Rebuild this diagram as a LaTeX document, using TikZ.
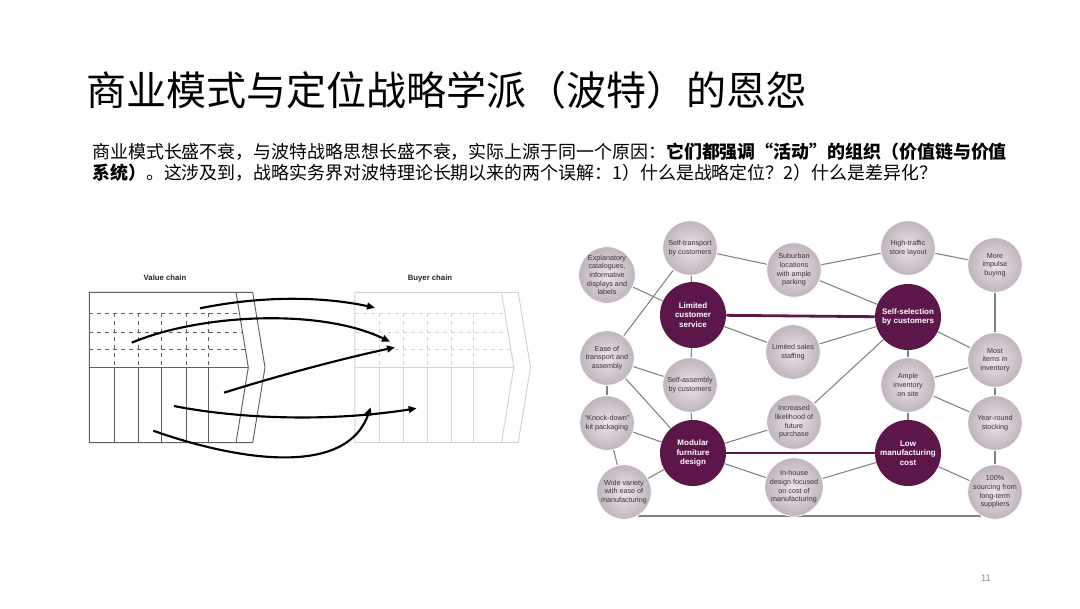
\documentclass[tikz,border=0pt]{standalone}
\usepackage{fontspec}
\setmainfont{Liberation Sans}
\newfontfamily\cjk{Noto Sans CJK SC}
\usetikzlibrary{arrows.meta,backgrounds}
\definecolor{HubPurple}{RGB}{92,22,74}
\definecolor{CircIn}{RGB}{234,228,232}
\definecolor{CircOut}{RGB}{192,180,189}
\definecolor{LinkGray}{RGB}{130,130,130}
\definecolor{ChainGray}{RGB}{95,95,95}
\definecolor{BuyerGray}{RGB}{210,210,210}
\definecolor{NodeText}{RGB}{58,50,56}

\begin{document}
\begin{tikzpicture}[x=0.75pt,y=-0.75pt,
  act/.style={circle,shading=radial,inner color=CircIn,outer color=CircOut,
              draw=white,line width=0.6pt,minimum size=41pt,inner sep=0pt,
              align=center,text=NodeText,font=\fontsize{5.4}{6.5}\selectfont},
  hub/.style={circle,fill=HubPurple,minimum size=49.5pt,inner sep=0pt,
              align=center,text=white,font=\bfseries\fontsize{6}{7}\selectfont},
  link/.style={draw=LinkGray,line width=0.8pt},
  hublink/.style={draw=HubPurple,line width=2.1pt},
  flow/.style={line width=1.6pt,-{Triangle[length=6pt,width=5pt]}},
]
\useasboundingbox (0,0) rectangle (1080,608);
\begin{scope}[on background layer]
  \fill[white] (0,0) rectangle (1080,608);
\end{scope}

% title and intro text
\node[anchor=west,inner sep=0pt,font=\cjk\fontsize{30}{32}\selectfont] (title) at (86,90)
  {商业模式与定位战略学派（波特）的恩怨};
\node[anchor=north west,align=left,inner sep=0pt,font=\cjk\fontsize{13.45}{15.75}\selectfont] (intro) at (92,143)
  {商业模式长盛不衰，与波特战略思想长盛不衰，实际上源于同一个原因：\textbf{它们都强调“活动”的组织（价值链与价值}\\
   \textbf{系统）}。这涉及到，战略实务界对波特理论长期以来的两个误解：1）什么是战略定位？2）什么是差异化？};

% value chain and buyer chain
\foreach \dx/\col in {0/ChainGray,265.5/BuyerGray}{
  \begin{scope}[shift={(\dx,0)},line width=0.7pt]
    \draw[\col] (89.3,292.3) -- (252.7,292.3) -- (265,367.3) -- (252.7,442.7) -- (89.3,442.7) -- cycle;
    \draw[\col] (236,292.3) -- (248.3,367.3) -- (236,442.7);
    \draw[\col] (89.3,367.3) -- (248.3,367.3);
    \draw[\col,dashed] (89.3,313.3) -- (239.4,313.3);
    \draw[\col,dashed] (89.3,332.7) -- (242.6,332.7);
    \draw[\col,dashed] (89.3,349.3) -- (245.3,349.3);
    \foreach \vx in {114.3,138.3,161.7,186,208.3}{
      \draw[\col,dashed] (\vx,313.3) -- (\vx,367.3);
      \draw[\col] (\vx,367.3) -- (\vx,442.7);
    }
  \end{scope}
}
\node[font=\bfseries\fontsize{5.8}{7}\selectfont,text=black!85] (vclabel) at (165,278) {Value chain};
\node[font=\bfseries\fontsize{5.8}{7}\selectfont,text=black!85] (bclabel) at (430,278) {Buyer chain};

% linkage arrows
\coordinate (f1s) at (200,308.3);   \coordinate (f1e) at (375,307.7);
\coordinate (f2s) at (131.7,342.7); \coordinate (f2e) at (390,341.7);
\coordinate (f3s) at (224,392.7);   \coordinate (f3e) at (395,347.3);
\coordinate (f4s) at (174,406);     \coordinate (f4e) at (416.7,408.3);
\coordinate (f5s) at (153.3,430.7); \coordinate (f5e) at (370.7,407.3);
\draw[flow] (f1s) .. controls (260,296) and (320,296) .. (f1e);
\draw[flow] (f2s) .. controls (200,314) and (320,308) .. (f2e);
\draw[flow] (f3s) .. controls (290,372) and (350,357) .. (f3e);
\draw[flow] (f4s) .. controls (240,419) and (330,422) .. (f4e);
\draw[flow] (f5s) .. controls (230,458) and (345,480) .. (f5e);

% activity system
\node[hub] (lcs)     at (693,315) {Limited\\customer\\service};
\node[hub] (ssel)    at (908,317) {Self-selection\\by customers};
\node[hub] (modular) at (693,453) {Modular\\furniture\\design};
\node[hub] (lowcost) at (908,453) {Low\\manufacturing\\cost};

\node[act] (expl)     at (607,275) {Explanatory\\catalogues,\\informative\\displays and\\labels};
\node[act] (selftr)   at (690,248) {Self-transport\\by customers};
\node[act] (suburb)   at (794,270) {Suburban\\locations\\with ample\\parking};
\node[act] (hightr)   at (908,248) {High-traffic\\store layout};
\node[act] (impulse)  at (995,265) {More\\impulse\\buying};
\node[act] (lsales)   at (793,352) {Limited sales\\staffing};
\node[act] (ease)     at (607,358) {Ease of\\transport and\\assembly};
\node[act] (selfas)   at (690,385) {Self-assembly\\by customers};
\node[act] (ample)    at (908,385) {Ample\\inventory\\on site};
\node[act] (most)     at (995,360) {Most\\items in\\inventory};
\node[act] (knock)    at (607,423) {“Knock-down”\\kit packaging};
\node[act] (incr)     at (794,422) {Increased\\likelihood of\\future\\purchase};
\node[act] (year)     at (995,423) {Year-round\\stocking};
\node[act] (wide)     at (624,492) {Wide variety\\with ease of\\manufacturing};
\node[act] (inhouse)  at (794,487) {In-house\\design focused\\on cost of\\manufacturing};
\node[act] (sourcing) at (995,492) {100\%\\sourcing from\\long-term\\suppliers};

\begin{scope}[on background layer]
  \draw[hublink] (lcs) -- (ssel);
  \draw[hublink] (modular) -- (lowcost);
  \foreach \a/\b in {expl/lcs,selftr/lcs,selftr/suburb,ease/selftr,suburb/hightr,
                     suburb/ssel,hightr/impulse,impulse/most,lcs/lsales,lcs/selfas,
                     lsales/ssel,ssel/ample,ssel/most,ssel/incr,ease/selfas,
                     ease/modular,ease/knock,selfas/modular,knock/modular,knock/wide,
                     incr/modular,ample/most,ample/year,ample/lowcost,most/year,
                     year/sourcing,modular/wide,modular/inhouse,inhouse/lowcost,
                     lowcost/sourcing}
    \draw[link] (\a) -- (\b);
  \draw[link] (wide.-60) -- (sourcing.-120);
\end{scope}

\node[font=\fontsize{7}{8}\selectfont,text=black!45] (pagenum) at (986,578) {11};
\end{tikzpicture}
\end{document}
